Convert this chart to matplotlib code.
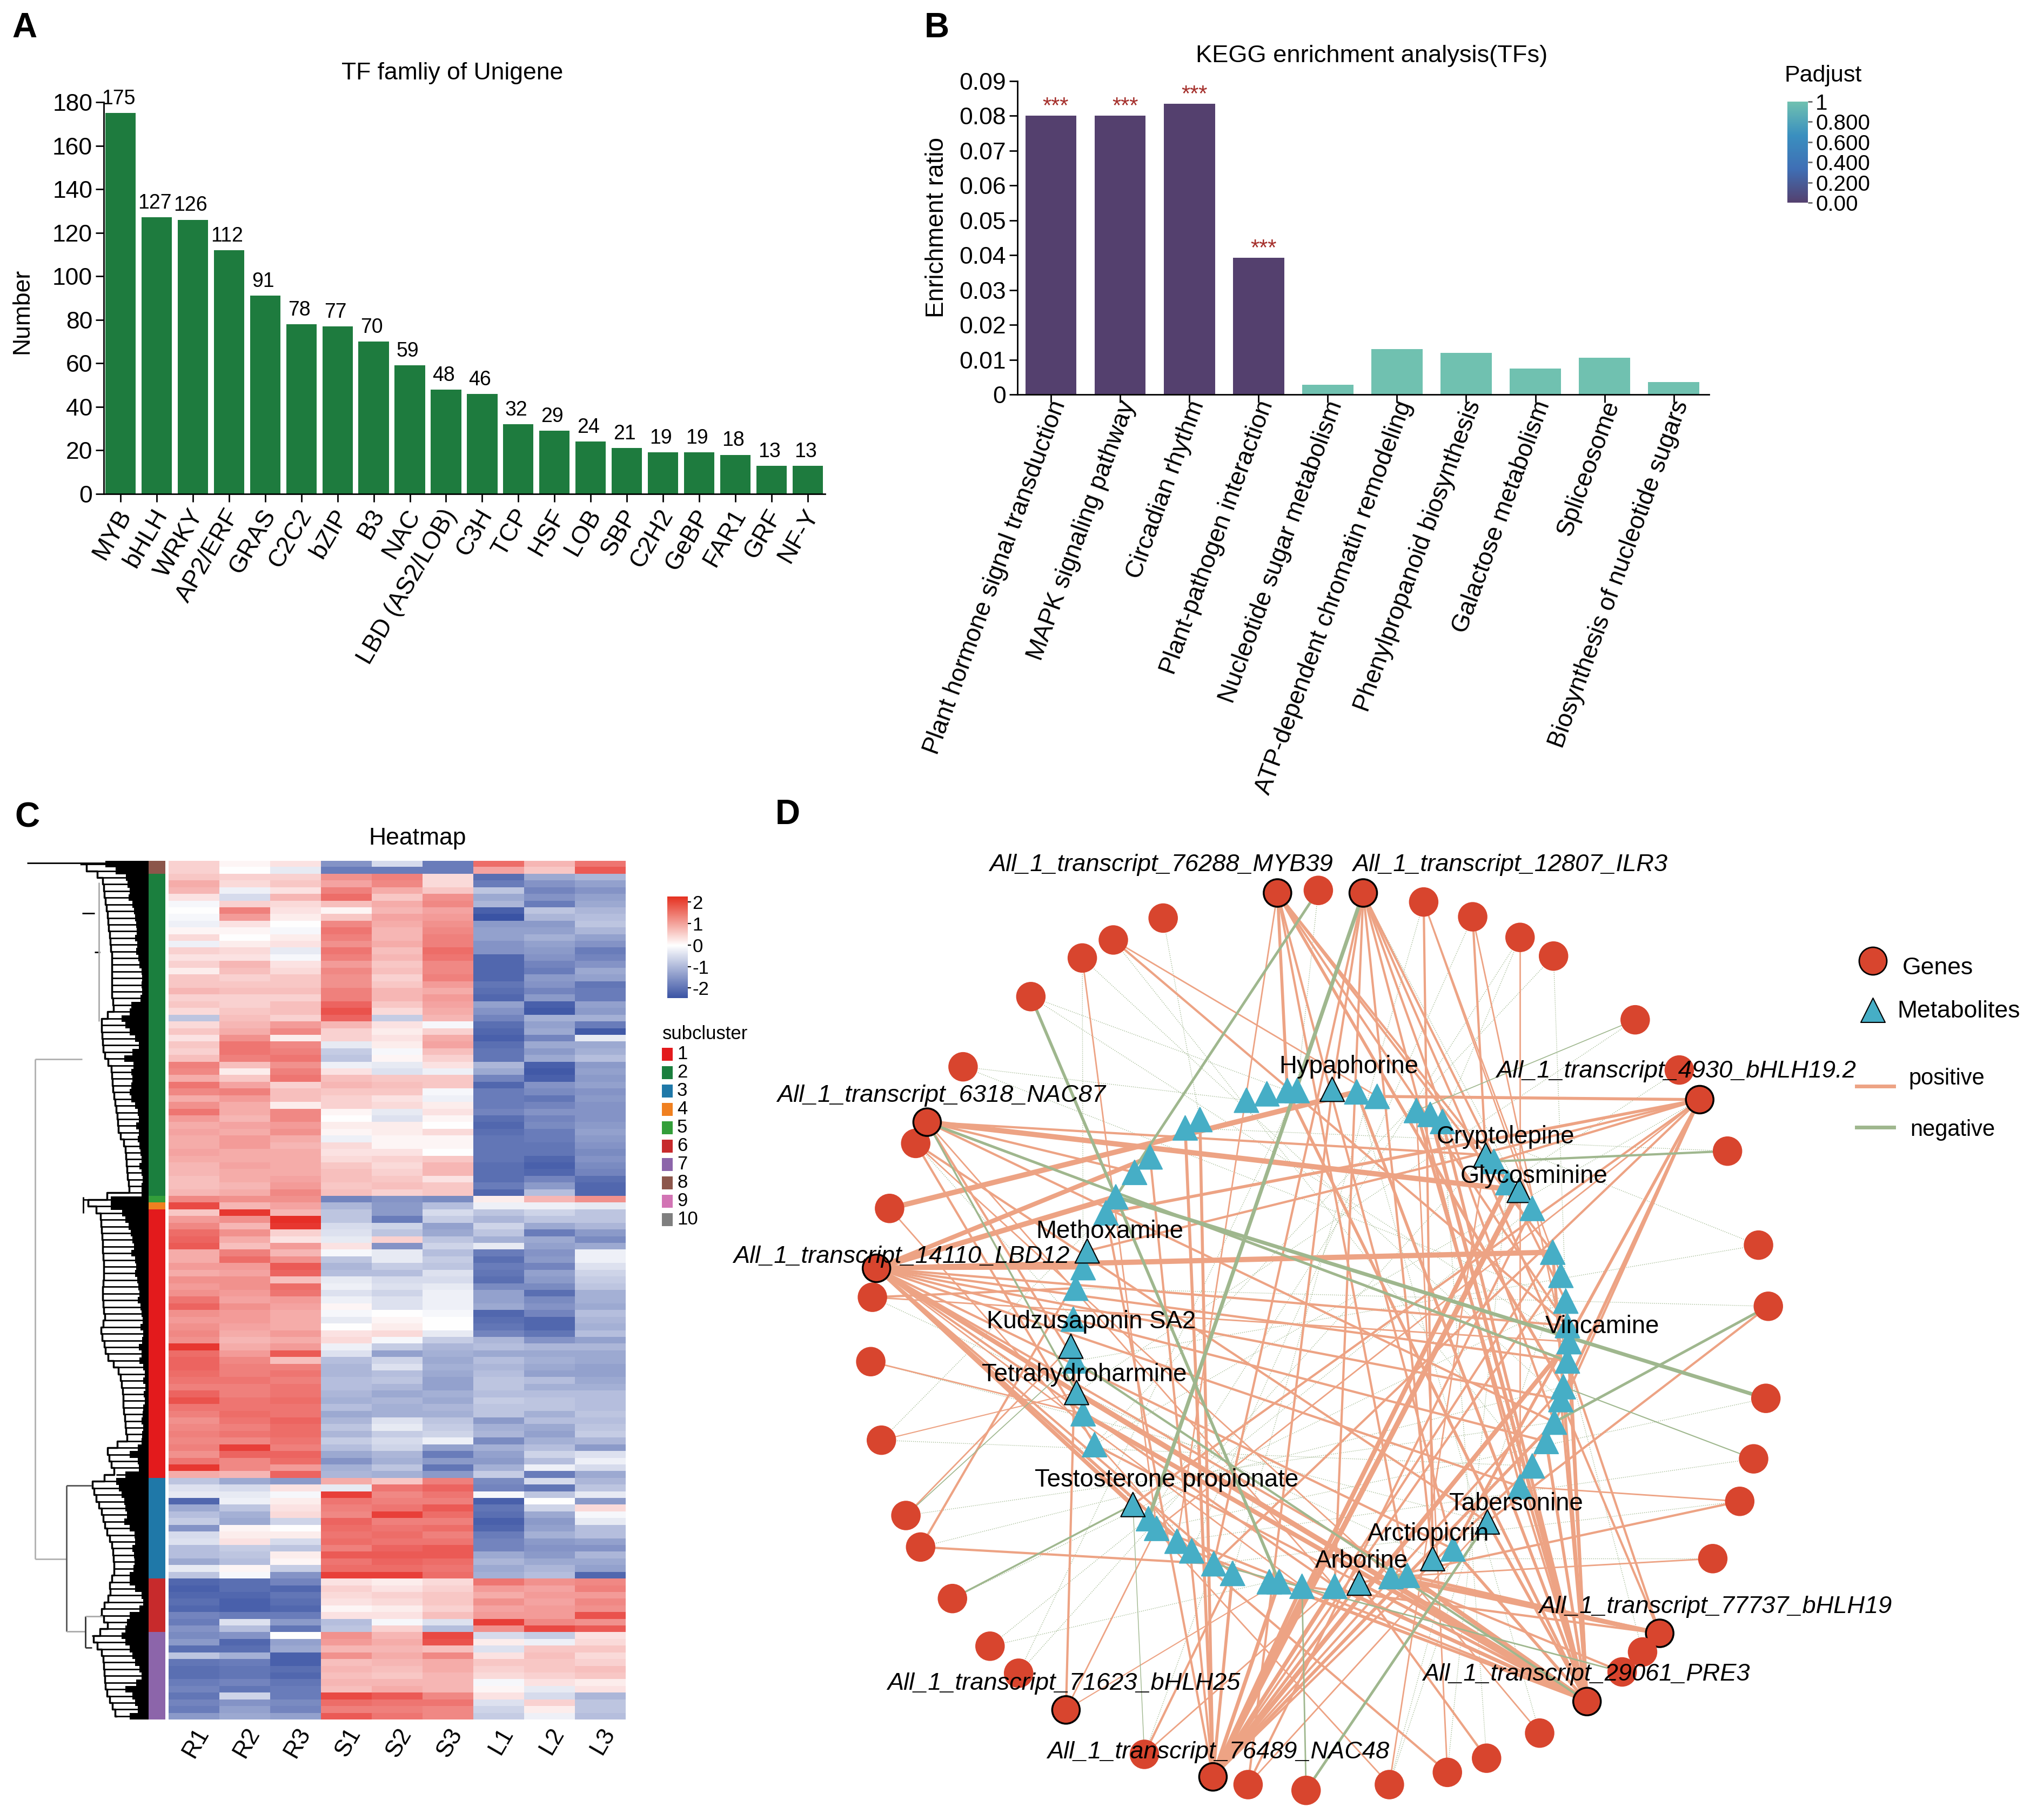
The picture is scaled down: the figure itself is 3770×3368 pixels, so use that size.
import numpy as np
import matplotlib
matplotlib.use("Agg")
import matplotlib.pyplot as plt
from matplotlib.cm import ScalarMappable
from matplotlib.colors import LinearSegmentedColormap, ListedColormap, Normalize
from matplotlib.transforms import ScaledTranslation

W, H = 3770, 3368
plt.rcParams["font.family"] = ["Liberation Sans", "DejaVu Sans"]

# panel A
tf_names = ["MYB", "bHLH", "WRKY", "AP2/ERF", "GRAS", "C2C2", "bZIP", "B3", "NAC", "LBD (AS2/LOB)",
            "C3H", "TCP", "HSF", "LOB", "SBP", "C2H2", "GeBP", "FAR1", "GRF", "NF-Y"]
tf_counts = [175, 127, 126, 112, 91, 78, 77, 70, 59, 48, 46, 32, 29, 24, 21, 19, 19, 18, 13, 13]

# panel B
kegg_terms = ["Plant hormone signal transduction", "MAPK signaling pathway", "Circadian rhythm",
              "Plant-pathogen interaction", "Nucleotide sugar metabolism",
              "ATP-dependent chromatin remodeling", "Phenylpropanoid biosynthesis",
              "Galactose metabolism", "Spliceosome", "Biosynthesis of nucleotide sugars"]
kegg_ratio = [0.08, 0.08, 0.0835, 0.0392, 0.0028, 0.013, 0.012, 0.0075, 0.0105, 0.0035]
kegg_padj = [0, 0, 0, 0, 1, 1, 1, 1, 1, 1]
kegg_stars = [True, True, True, True, False, False, False, False, False, False]

# panel C, values in tenths, top to bottom
samples = ["R1", "R2", "R3", "S1", "S2", "S3", "L1", "L2", "L3"]
cluster_order = [8, 2, 5, 4, 1, 3, 6, 7]
cluster_rows = [2, 48, 1, 1, 40, 15, 8, 13]
cluster_colors = ["#E31A1C", "#1B7F3E", "#1F78A8", "#F08020", "#339E3A",
                  "#C72A2C", "#8C65AA", "#8C564B", "#D274B4", "#7F7F7F"]
heat_rows = [
    [5, 1, 3, -15, -5, -18, 16, 8, 15], [5, 0, -3, -18, -18, -18, 10, 6, 18],
    [6, 5, 5, 12, 14, 4, -20, -12, -10], [9, 4, 6, 10, 13, 4, -18, -15, -13],
    [8, -2, 3, 14, 9, 6, -8, -17, -15], [3, -5, 8, 16, 6, 12, -12, -15, -13],
    [-1, 5, 4, 7, 9, 13, -10, -18, -12], [0, 14, 3, 1, 8, 10, -22, -8, -10],
    [-1, 11, 2, 6, 10, 11, -24, -10, -9], [-2, 3, 0, 13, 9, 12, -14, -14, -8],
    [1, 1, -1, 15, 8, 13, -13, -13, -10], [4, 0, 2, 14, 8, 14, -13, -11, -13],
    [-2, 2, 3, 12, 9, 14, -15, -13, -15], [5, 4, -3, 15, 7, 16, -15, -14, -18],
    [3, 3, -1, 14, 8, 15, -21, -15, -17], [5, 8, 3, 11, 6, 13, -21, -17, -15],
    [2, 7, 4, 13, 7, 13, -21, -18, -12], [6, 5, 6, 12, 5, 14, -21, -14, -13],
    [6, 6, 6, 12, 6, 11, -19, -15, -19], [8, 7, 7, 14, 8, 9, -20, -17, -18],
    [5, 5, 5, 14, 8, 11, -21, -14, -18], [6, 5, 7, 17, 6, 10, -13, -22, -13],
    [4, 6, 7, 19, 4, 9, -15, -23, -14], [-8, 7, 5, 17, -7, 8, -17, -11, -11],
    [4, 8, 11, 8, 3, -1, -20, -13, -18], [6, 9, 13, 5, 2, 5, -21, -12, -23],
    [3, 12, 2, 5, 3, 9, -22, -17, -3], [6, 15, 13, -3, 2, 10, -20, -12, -12],
    [5, 15, 14, -7, -1, 7, -19, -14, -11], [7, 14, 15, -8, 1, 5, -19, -12, -9],
    [14, 7, 12, -2, -3, 3, -10, -22, -14], [13, 2, 14, 3, -4, -2, -12, -23, -13],
    [9, 6, 15, 7, 6, 6, -17, -22, -14], [15, 10, 5, 8, 7, 6, -21, -15, -13],
    [13, 14, 7, 6, 6, -1, -18, -16, -15], [9, 11, 7, 5, 3, -2, -18, -19, -14],
    [12, 9, 2, 5, 4, 2, -18, -17, -15], [15, 9, 13, 1, -3, 3, -17, -15, -15],
    [11, 8, 13, 0, -4, 1, -20, -17, -15], [9, 10, 11, 2, 2, 0, -21, -16, -14],
    [10, 9, 12, 1, 2, 4, -20, -18, -13], [9, 11, 9, -2, 1, 1, -19, -18, -14],
    [9, 11, 8, 4, 1, 1, -19, -19, -15], [10, 9, 9, 3, 3, 0, -19, -19, -16],
    [9, 9, 9, 4, 5, 6, -19, -21, -15], [8, 10, 9, 6, 4, 8, -20, -22, -16],
    [8, 9, 9, 7, 5, 8, -20, -21, -17], [7, 9, 10, 7, 6, 3, -20, -17, -20],
    [7, 8, 11, 6, 7, 6, -18, -14, -21], [8, 9, 13, 7, 5, 6, -21, -9, -21],
    [13, 12, 12, -17, -15, -16, 2, 8, 12], [20, 8, 10, -10, -14, -9, -2, -2, -3],
    [6, 22, 8, -8, -14, -5, -8, -6, -8], [11, 12, 23, -8, -18, -7, -10, -8, -8],
    [13, 8, 22, -5, -6, -13, -6, -12, -10], [16, 12, 5, -4, -8, -12, -8, -18, -14],
    [17, 9, 3, -3, 5, -8, -11, -12, -16], [18, 7, 11, 3, -15, -6, -3, -13, -12],
    [9, 14, 8, -1, -3, -9, -18, -15, -2], [9, 16, 12, -8, -3, -7, -20, -14, -2],
    [11, 11, 18, -10, -7, -8, -18, -17, -4], [9, 10, 17, -9, -9, -4, -19, -13, -6],
    [12, 12, 7, -3, -5, -5, -20, -14, -7], [11, 12, 16, -2, -4, -3, -16, -16, -8],
    [12, 11, 15, -4, -6, -2, -13, -20, -11], [15, 10, 11, -2, -4, -2, -13, -16, -11],
    [17, 12, 10, 1, -4, -2, -12, -15, -12], [12, 11, 9, -1, 0, -1, -21, -17, -9],
    [11, 11, 9, -3, 1, 0, -20, -21, -10], [12, 10, 9, 0, 2, 0, -19, -21, -11],
    [13, 9, 11, 3, 4, -3, -17, -19, -9], [12, 8, 9, 4, -1, -7, -10, -15, -13],
    [22, 9, 11, -2, -7, -10, -9, -10, -10], [16, 11, 18, -4, -13, -11, -12, -12, -12],
    [17, 13, 7, -9, -6, -12, -9, -11, -12], [17, 14, 14, -10, -4, -11, -10, -12, -13],
    [16, 14, 15, -10, -9, -12, -9, -13, -13], [15, 15, 14, -9, -8, -13, -8, -9, -12],
    [14, 14, 15, -9, -10, -13, -8, -11, -11], [17, 14, 15, -10, -12, -11, -9, -9, -9],
    [19, 15, 16, -11, -10, -12, -7, -8, -9], [15, 15, 15, -9, -11, -10, -8, -8, -9],
    [14, 16, 15, -12, -11, -11, -8, -11, -8], [12, 15, 17, -10, -4, -8, -14, -9, -9],
    [13, 14, 16, -8, -3, -7, -11, -12, -8], [14, 15, 16, -10, -7, -6, -10, -13, -7],
    [13, 13, 15, -7, -5, -2, -16, -11, -10], [14, 21, 14, -9, -6, -13, -11, -9, -14],
    [12, 17, 17, -12, -10, -18, -13, -6, -4], [15, 13, 16, -15, -11, -14, -14, -9, -2],
    [22, 13, 11, -11, -8, -19, -11, -2, -5], [9, 8, 17, -10, -11, -14, -7, -18, -12],
    [-8, -12, -14, 9, 6, 14, -16, -5, -10], [-4, -5, 3, -3, 15, 17, -17, -19, -8],
    [-3, -3, -1, 21, 13, 15, -1, -8, -3], [-21, -2, 2, 15, 14, 14, -22, 0, -14],
    [-12, -8, 3, 14, 15, 18, -19, -6, 4], [-9, -11, 4, 13, 21, 16, -20, -12, -1],
    [-7, -12, -6, 17, 14, 14, -22, -14, -3], [-15, 1, 0, 16, 15, 16, -21, -13, -9],
    [-5, 2, 2, 15, 16, 14, -18, -11, -9], [-4, 3, -5, 16, 15, 15, -17, -14, -13],
    [-9, -7, -8, 14, 17, 18, -17, -15, -15], [-9, -8, 2, 18, 18, 18, -12, -14, -10],
    [-12, -9, 1, 15, 17, 16, -10, -12, -12], [-3, 1, -7, 16, 16, 15, -12, -10, -13],
    [-8, -1, -15, 21, 21, 16, -11, -9, -21],
    [-21, -20, -17, 3, 2, 4, 15, 12, 13], [-22, -20, -21, 5, 3, 5, 11, 10, 14],
    [-21, -21, -19, 4, 5, 6, 9, 11, 11], [-20, -22, -20, 3, 4, 6, 12, 10, 13],
    [-21, -22, -21, 1, 2, 5, 10, 11, 12], [-17, -18, -18, 3, 3, 7, 11, 11, 19],
    [-18, -4, -14, -9, -1, -4, 21, 13, 12], [-15, -9, -19, -8, 5, -9, 12, 20, 18],
    [-16, -15, 0, 12, 8, 20, -5, -7, 3], [-14, -21, -13, 11, 9, 19, 2, -2, 4],
    [-20, -20, -12, 8, 8, 7, -4, 6, 6], [-8, -11, -22, 12, 9, 13, 3, 7, 4],
    [-19, -18, -22, 7, 8, 9, 6, 6, 5], [-20, -19, -20, 8, 7, 9, 5, 6, 7],
    [-20, -19, -21, 7, 6, 8, 4, 5, 6], [-18, -17, -19, 8, 8, 8, -1, 3, 2],
    [-17, -19, -18, 7, 9, 8, 1, -3, 3], [-19, -6, -18, 20, 18, 13, 3, -5, -10],
    [-17, -15, -16, 16, 15, 15, -4, 5, -8], [-18, -13, -17, 14, 14, 13, -6, 2, -8],
    [-14, -12, -13, 18, 15, 13, -7, -2, -9],
]
# dendrogram, per heatmap row: where the solid leaf block starts and where the branch starts
leaf_start = [195, 214,
              233, 236, 240, 238, 245, 248, 250, 252, 253, 250, 254, 252, 256, 258, 262, 263, 262, 263, 260,
              243, 240, 225, 232, 240, 250, 257, 245, 230, 247, 243, 245, 243, 240, 243, 250, 255, 257, 252, 257,
              255, 258, 260, 262, 258, 262, 264, 262, 262,
              205, 205,
              226, 232, 238, 242, 245, 248, 243, 250, 252, 250, 254, 256, 258, 255, 260, 262, 264, 260, 265, 263,
              257, 262, 258, 265, 268, 265, 269, 266, 268, 265, 264, 262, 265, 263, 262, 255, 240, 255, 257, 232,
              215, 220, 225, 230, 232, 235, 230, 240, 249, 250, 245, 248, 249, 247, 240,
              240, 250, 262, 265, 258, 240, 235, 232,
              225, 232, 240, 245, 250, 258, 262, 252, 232, 245, 250, 255, 240]
branch_start = [150, 170,
                190, 190, 193, 193, 196, 198, 200, 200, 202, 203, 204, 206, 207, 207, 207, 207, 207, 207, 207,
                210, 210, 187, 188, 188, 190, 190, 192, 195, 205, 206, 208, 208, 210, 212, 214, 216, 217, 218, 220,
                226, 231, 232, 233, 234, 235, 237, 238, 240,
                155, 170,
                186, 186, 188, 188, 190, 190, 190, 192, 192, 192, 192, 190, 190, 190, 192, 192, 195, 187, 187, 190,
                195, 195, 205, 215, 222, 224, 226, 228, 228, 228, 230, 232, 232, 234, 235, 199, 199, 205, 207, 215,
                170, 172, 176, 180, 185, 190, 192, 196, 200, 205, 208, 210, 210, 211, 211,
                203, 203, 205, 195, 190, 185, 199, 199,
                170, 175, 185, 190, 191, 192, 193, 194, 195, 200, 205, 210, 215]
# x0, y0, x1, y1, colour
tree_lines = [(50, 1597, 195, 1597, "black"), (152, 1690, 175, 1690, "black"), (175, 1762, 185, 1762, "black"),
              (65, 1960, 65, 2885, "#b0b0b0"), (65, 1960, 152, 1960, "#b0b0b0"), (65, 2885, 123, 2885, "#b0b0b0"),
              (123, 2749, 123, 3019, "#555555"), (123, 2749, 170, 2749, "#555555"), (123, 3019, 158, 3019, "#aaaaaa"),
              (158, 2991, 158, 3049, "#333333"), (158, 2991, 190, 2991, "#aaaaaa"), (158, 3049, 170, 3049, "#333333"),
              (183, 1633, 183, 1890, "#aaaaaa"), (154, 2215, 154, 2245, "black")]

gene_x = [638, 688, 743, 817, 877, 935, 976, 1076, 1130, 1155, 1189, 1227, 1239, 1236, 1221, 1204, 1171, 1106, 1085,
          1060, 1017, 959, 894, 846, 775, 673, 602, 559, 475, 379, 321, 286, 240, 201, 183, 153, 140, 142, 147, 163,
          195, 209, 253, 336, 399, 437, 498]
gene_y = [128, 124, 128, 142, 165, 197, 226, 325, 403, 449, 529, 675, 770, 913, 1007, 1073, 1162, 1278, 1307,
          1338, 1384, 1433, 1472, 1494, 1513, 1522, 1513, 1501, 1466, 1397, 1340, 1298, 1224, 1144, 1095, 978, 856,
          756, 711, 618, 517, 484, 398, 289, 229, 201, 167]
gene_hubs = [0, 2, 9, 17, 20, 27, 29, 38, 41]
met_x = [600, 625, 650, 662, 705, 735, 760, 808, 825, 840, 893, 903, 920, 934, 950, 975, 985, 991, 993, 995, 993, 988,
         985, 977, 967, 950, 935, 895, 853, 828, 797, 777, 738, 708, 668, 640, 628, 583, 560, 533, 515, 490, 480, 461,
         414, 400, 392, 390, 385, 388, 391, 400, 405, 428, 440, 463, 482, 525, 543]
met_y = [450, 440, 435, 435, 433, 437, 444, 466, 472, 483, 535, 545, 578, 590, 618, 686, 722, 762, 800, 825, 855, 895,
         915, 950, 980, 1018, 1050, 1105, 1147, 1162, 1188, 1190, 1200, 1205, 1205, 1198, 1198, 1185, 1170, 1150, 1135,
         1115, 1100, 1078, 985, 937, 904, 855, 832, 790, 742, 710, 684, 625, 600, 562, 538, 493, 480]
met_hubs = [4, 10, 13, 27, 29, 32, 43, 46, 48, 52]
# gene index, metabolite index, line width
pos_edges = [(38, 15, 7), (39, 5, 7), (41, 13, 7), (38, 54, 7), (38, 56, 6), (38, 51, 5), (27, 13, 7), (27, 19, 6),
             (27, 12, 6), (20, 46, 7), (20, 45, 6), (20, 33, 5), (20, 30, 6), (20, 32, 4), (17, 31, 6), (17, 30, 4),
             (27, 34, 5), (27, 35, 5), (27, 33, 5), (27, 32, 4), (27, 30, 4), (27, 37, 4), (20, 19, 4), (20, 17, 4),
             (20, 15, 4), (20, 7, 4), (20, 8, 5), (20, 9, 4), (20, 5, 4), (20, 2, 4), (9, 6, 4), (9, 52, 3), (9, 53, 4),
             (9, 38, 3), (9, 26, 4), (9, 28, 4), (9, 11, 3), (0, 2, 4), (0, 21, 4), (0, 28, 3), (0, 15, 3), (0, 12, 3),
             (0, 18, 3), (2, 20, 3), (2, 23, 3), (2, 4, 3), (2, 26, 3), (2, 29, 3), (2, 17, 3), (38, 43, 4), (38, 46, 6),
             (38, 41, 4), (38, 39, 4), (38, 20, 3), (38, 24, 3), (38, 28, 3), (38, 18, 3), (38, 30, 3), (38, 37, 3),
             (41, 47, 3), (41, 20, 3), (41, 55, 3), (41, 10, 3), (40, 44, 3), (40, 27, 3), (3, 29, 3), (3, 14, 2),
             (4, 10, 3), (45, 18, 3), (33, 51, 3), (33, 38, 3), (29, 47, 3), (26, 4, 3), (29, 41, 2), (29, 35, 1.5),
             (27, 56, 3), (27, 57, 4), (27, 53, 3), (27, 58, 4), (15, 32, 3), (12, 27, 3), (23, 40, 3), (22, 32, 3),
             (21, 30, 2), (24, 43, 2), (36, 45, 2), (37, 50, 3), (20, 24, 4), (19, 31, 3), (28, 37, 3),
             (27, 15, 3), (27, 16, 3), (27, 21, 3), (27, 23, 4), (27, 25, 3), (20, 36, 3), (20, 39, 3), (20, 41, 3),
             (20, 44, 3), (20, 26, 3), (20, 22, 3), (20, 28, 4), (20, 27, 4), (17, 22, 3), (17, 20, 3), (17, 34, 3),
             (9, 41, 2), (9, 43, 3), (9, 24, 3), (0, 30, 3), (0, 40, 2), (2, 38, 3), (2, 33, 3), (38, 22, 3),
             (38, 26, 3), (38, 33, 3), (38, 34, 2), (41, 23, 3), (41, 33, 2), (40, 31, 2), (39, 39, 2), (4, 20, 2),
             (26, 14, 3), (26, 27, 2), (23, 7, 2), (24, 10, 2), (35, 46, 1.5), (16, 31, 2), (15, 26, 2), (37, 19, 2),
             (5, 26, 2), (3, 16, 2), (45, 6, 2), (44, 41, 2), (34, 48, 2), (28, 33, 2)]
neg_edges = [(43, 35, 4), (2, 42, 5), (1, 54, 3.5), (12, 23, 3.5), (13, 54, 5), (41, 20, 3.5), (10, 11, 3), (25, 27, 3.5),
             (25, 34, 2), (14, 21, 1.5), (32, 43, 2.5), (34, 47, 1.2), (41, 46, 2.5), (20, 47, 3), (7, 7, 1.2), (2, 3, 2),
             (28, 43, 1), (19, 38, 2)]
thin_edges = [(44, 51, 1), (6, 17, 1), (43, 2, 1), (2, 13, 1), (11, 8, 1), (9, 44, 1), (31, 36, 1),
              (30, 3, 1), (35, 53, 1), (8, 12, 1), (16, 29, 1), (18, 20, 1), (28, 38, 1), (46, 58, 1),
              (42, 0, 1), (5, 9, 1), (40, 49, 1), (1, 3, 1), (24, 28, 1), (10, 57, 1), (13, 41, 1), (14, 40, 1),
              (15, 38, 1), (11, 47, 1), (12, 50, 1), (21, 5, 1), (22, 9, 1), (23, 12, 1), (24, 16, 1), (33, 21, 1),
              (34, 23, 1), (35, 25, 1), (36, 27, 1), (37, 29, 1), (42, 17, 1), (43, 19, 1), (44, 22, 1), (45, 25, 1),
              (30, 10, 1), (31, 14, 1), (32, 17, 1), (3, 37, 1), (4, 39, 1), (5, 42, 1), (6, 44, 1), (7, 46, 1)]
met_labels = ["Hypaphorine", "Cryptolepine", "Glycosminine", "Methoxamine", "Kudzusaponin SA2", "Tetrahydroharmine",
              "Testosterone propionate", "Arborine", "Arctiopicrin", "Tabersonine", "Vincamine"]
met_label_x = [640, 833, 862, 342, 282, 276, 341, 684, 748, 848, 966]
met_label_y = [398, 507, 568, 654, 794, 876, 1040, 1166, 1124, 1077, 802]
gene_labels = ["All_1_transcript_76288_MYB39", "All_1_transcript_12807_ILR3", "All_1_transcript_4930_bHLH19.2",
               "All_1_transcript_6318_NAC87", "All_1_transcript_14110_LBD12", "All_1_transcript_77737_bHLH19",
               "All_1_transcript_29061_PRE3", "All_1_transcript_71623_bHLH25", "All_1_transcript_76489_NAC48"]
gene_label_x = [285, 730, 906, 25, -28, 958, 816, 160, 356]
gene_label_y = [84, 84, 405, 443, 693, 1237, 1342, 1356, 1463]

GREEN_BAR = "#1E7B3E"
GENE_RED = "#D8452E"
MET_BLUE = "#46AEC6"
POS_LINE = "#EDA384"
NEG_LINE = "#9FB78E"


def axes_px(fig, left, top, right, bottom):
    return fig.add_axes([left / W, 1 - bottom / H, (right - left) / W, (bottom - top) / H])


def text_px(fig, x, y, s, **kw):
    kw.setdefault("va", "center")
    fig.text(x / W, 1 - y / H, s, **kw)


def style_axis(ax):
    ax.spines[["top", "right"]].set_visible(False)
    ax.spines[["left", "bottom"]].set_linewidth(2)
    ax.tick_params(length=11, width=2, labelsize=32, pad=4)


def nudge_labels(fig, labels, dx, dy):
    shift = ScaledTranslation(dx / 100, dy / 100, fig.dpi_scale_trans)
    for label in labels:
        label.set_transform(label.get_transform() + shift)


def draw_tf_bars(fig):
    ax = axes_px(fig, 192, 189, 1527, 914)
    x = np.arange(len(tf_names))
    ax.bar(x, tf_counts, width=0.84, color=GREEN_BAR)
    for xi, n in zip(x, tf_counts):
        ax.text(xi - 0.06, n + 2, str(n), ha="center", va="bottom", fontsize=27)
    ax.set_xlim(-0.463, 19.48)
    ax.set_ylim(0, 180)
    ax.set_yticks(range(0, 181, 20))
    ax.set_xticks(x)
    ax.set_xticklabels(tf_names, rotation=60, ha="right", rotation_mode="anchor", fontsize=33)
    style_axis(ax)
    ax.tick_params(axis="x", labelsize=33)
    nudge_labels(fig, ax.get_xticklabels(), -10, 0)
    text_px(fig, 41, 576, "Number", rotation=90, ha="center", fontsize=32)
    text_px(fig, 837, 136, "TF famliy of Unigene", ha="center", fontsize=32)


def draw_kegg_bars(fig):
    cmap = LinearSegmentedColormap.from_list("padj", ["#54406E", "#3F6FB5", "#3A8FBF", "#70C1B0"])
    ax = axes_px(fig, 1883, 150, 3163, 730)
    x = np.arange(len(kegg_terms))
    ax.bar(x, kegg_ratio, width=0.74, color=cmap(np.array(kegg_padj, dtype=float)))
    for xi, r, star in zip(x, kegg_ratio, kegg_stars):
        if star:
            ax.text(xi + 0.07, r + 0.0025, "***", color="#A5302C", ha="center", va="center", fontsize=30)
    ax.set_xlim(-0.484, 9.51)
    ax.set_ylim(0, 0.09)
    ax.set_yticks([0, 0.01, 0.02, 0.03, 0.04, 0.05, 0.06, 0.07, 0.08, 0.09])
    ax.set_yticklabels(["0", "0.01", "0.02", "0.03", "0.04", "0.05", "0.06", "0.07", "0.08", "0.09"])
    ax.set_xticks(x)
    ax.set_xticklabels(kegg_terms, rotation=70, ha="right", rotation_mode="anchor")
    style_axis(ax)
    ax.tick_params(axis="x", labelsize=33)
    nudge_labels(fig, ax.get_xticklabels(), -5, 15)
    text_px(fig, 1734, 421, "Enrichment ratio", rotation=90, ha="center", fontsize=33)
    text_px(fig, 2539, 104, "KEGG enrichment analysis(TFs)", ha="center", fontsize=32.6)

    cax = axes_px(fig, 3308, 188, 3346, 375)
    cb = fig.colorbar(ScalarMappable(Normalize(0, 1), cmap), cax=cax)
    cb.set_ticks([0, 0.2, 0.4, 0.6, 0.8, 1])
    cb.set_ticklabels(["0.00", "0.200", "0.400", "0.600", "0.800", "1"])
    cb.outline.set_visible(False)
    cax.tick_params(length=6, width=2, color="#666666", labelsize=29, pad=4)
    text_px(fig, 3302, 140, "Padjust", ha="left", fontsize=31)


def draw_heatmap(fig):
    cmap = LinearSegmentedColormap.from_list("heat", ["#3A53A4", "#FFFFFF", "#E5261F"])
    norm = Normalize(-2.4, 2.4)
    values = np.array(heat_rows) / 10
    ax = axes_px(fig, 312, 1593, 1157, 3182)
    ax.imshow(values, aspect="auto", cmap=cmap, norm=norm, interpolation="nearest")
    ax.set_xticks(range(len(samples)))
    ax.set_xticklabels(samples, rotation=60, ha="right", rotation_mode="anchor", fontsize=32)
    ax.set_yticks([])
    ax.tick_params(length=0, pad=6)
    for side in ax.spines.values():
        side.set_visible(False)
    text_px(fig, 773, 1552, "Heatmap", ha="center", fontsize=32)

    side = axes_px(fig, 275, 1593, 306, 3182)
    row_cluster = np.repeat(cluster_order, cluster_rows)[:, None]
    side.imshow(row_cluster, aspect="auto", cmap=ListedColormap(cluster_colors), vmin=0.5, vmax=10.5,
                interpolation="nearest")
    side.axis("off")

    tree = axes_px(fig, 40, 1593, 275, 3182)
    edges_y = np.linspace(1593, 3182, len(leaf_start) + 1)
    mid_y = (edges_y[:-1] + edges_y[1:]) / 2
    tree.fill_betweenx(edges_y, np.append(leaf_start, leaf_start[-1]), 275, step="post", color="black", lw=0)
    tree.hlines(mid_y, branch_start, leaf_start, color="black", lw=2)
    tree.step(branch_start, mid_y, where="mid", color="black", lw=2.5)
    for x0, y0, x1, y1, colour in tree_lines:
        tree.plot([x0, x1], [y0, y1], color=colour, lw=2, solid_capstyle="butt")
    tree.set_xlim(40, 275)
    tree.set_ylim(3182, 1593)
    tree.axis("off")

    cax = axes_px(fig, 1235, 1659, 1273, 1847)
    cb = fig.colorbar(ScalarMappable(Normalize(-2.47, 2.26), LinearSegmentedColormap.from_list(
        "heatbar", [(0, "#3A53A4"), (0.52, "#FFFFFF"), (1, "#E5301F")])), cax=cax)
    cb.set_ticks([-2, -1, 0, 1, 2])
    cb.set_ticklabels(["-2", "-1", "0", "1", "2"])
    cb.outline.set_visible(False)
    cax.tick_params(length=4, width=1.5, labelsize=25, pad=2)

    text_px(fig, 1226, 1914, "subcluster", ha="left", fontsize=25)
    legend = axes_px(fig, 1225, 1934, 1245, 2274)
    legend.barh(range(10), [1] * 10, height=0.72, color=cluster_colors)
    legend.set_xlim(0, 1)
    legend.set_ylim(9.5, -0.5)
    legend.axis("off")
    for i in range(10):
        text_px(fig, 1253, 1951 + 34 * i, str(i + 1), ha="left", fontsize=25)


def draw_network(fig):
    ax = axes_px(fig, 1400, 1500, 3770, 3368)
    ax.set_xlim(0, 1568)
    ax.set_ylim(1568, 0)
    ax.axis("off")
    for g, m, w in thin_edges:
        ax.plot([gene_x[g], met_x[m]], [gene_y[g], met_y[m]], color=NEG_LINE, lw=w, ls=":", zorder=1)
    for g, m, w in pos_edges:
        ax.plot([gene_x[g], met_x[m]], [gene_y[g], met_y[m]], color=POS_LINE, lw=w, zorder=2)
    for g, m, w in neg_edges:
        ax.plot([gene_x[g], met_x[m]], [gene_y[g], met_y[m]], color=NEG_LINE, lw=w, zorder=2)
    edge_g = ["black" if i in gene_hubs else GENE_RED for i in range(len(gene_x))]
    edge_m = ["black" if i in met_hubs else MET_BLUE for i in range(len(met_x))]
    ax.scatter(gene_x, gene_y, s=1350, c=GENE_RED, edgecolors=edge_g, linewidths=2.5, zorder=3)
    ax.scatter(met_x, met_y, s=1050, marker="^", c=MET_BLUE, edgecolors=edge_m, linewidths=1.5, zorder=3)
    for s, x, y in zip(met_labels, met_label_x, met_label_y):
        ax.text(x, y, s, ha="left", va="center", fontsize=32.8, zorder=5)
    for s, x, y in zip(gene_labels, gene_label_x, gene_label_y):
        ax.text(x, y, s, ha="left", va="center", fontsize=32.6, style="italic", zorder=5)

    # legend of the panel
    ax.scatter([1367], [233], s=1350, c=GENE_RED, edgecolors="black", linewidths=2, clip_on=False)
    ax.scatter([1367], [310], s=1050, marker="^", c=MET_BLUE, edgecolors="black", linewidths=1.5, clip_on=False)
    ax.text(1403, 245, "Genes", va="center", fontsize=32)
    ax.text(1397, 312, "Metabolites", va="center", fontsize=32)
    ax.plot([1347, 1393], [428, 428], color=POS_LINE, lw=5)
    ax.plot([1347, 1393], [492, 492], color=NEG_LINE, lw=5)
    ax.text(1411, 416, "positive", va="center", fontsize=30)
    ax.text(1413, 496, "negative", va="center", fontsize=30)


def main():
    fig = plt.figure(figsize=(W / 100, H / 100), dpi=100, facecolor="white")
    draw_tf_bars(fig)
    draw_kegg_bars(fig)
    draw_heatmap(fig)
    draw_network(fig)
    for letter, x, y in [("A", 22, 52), ("B", 1711, 52), ("C", 27, 1513), ("D", 1435, 1508)]:
        text_px(fig, x, y, letter, ha="left", fontsize=46, fontweight="bold")
    fig.savefig("out.png", dpi=100)


if __name__ == "__main__":
    main()
